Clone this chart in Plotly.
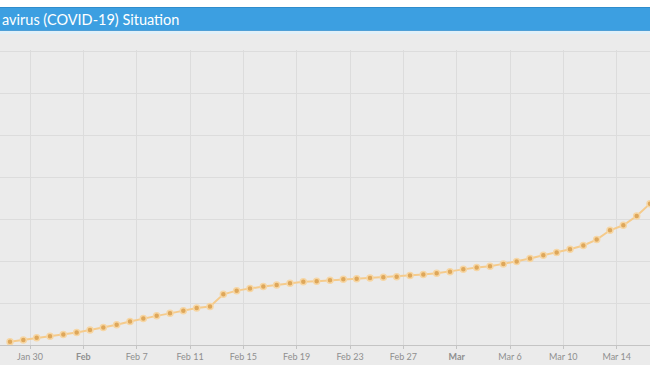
import plotly.graph_objects as go
import pandas as pd

# ---- data ----
dates = pd.date_range("2020-01-28 12:00", "2020-03-16 12:00", freq="D")
cases = [3900, 5950, 8570, 10480, 12500, 14880, 17860, 20830, 24170, 27980,
         31550, 34760, 37740, 40830, 44050, 45830, 60480, 64880, 67500, 69880,
         71670, 73570, 75360, 76190, 77140, 78330, 79170, 80000, 80710, 81550,
         82980, 84170, 85480, 87500, 90240, 92500, 94050, 96790, 99640, 103210,
         107140, 110360, 114290, 118690, 125830, 136900, 142860, 153930, 168690]
tick_dates = ["2020-01-30", "2020-02-03", "2020-02-07", "2020-02-11", "2020-02-15",
              "2020-02-19", "2020-02-23", "2020-02-27", "2020-03-02", "2020-03-06",
              "2020-03-10", "2020-03-14"]
tick_labels = ["Jan 30", "<b>Feb</b>", "Feb 7", "Feb 11", "Feb 15", "Feb 19",
               "Feb 23", "Feb 27", "<b>Mar</b>", "Mar 6", "Mar 10", "Mar 14"]
title_text = "avirus (COVID-19) Situation"

W, H = 650, 365
MT, MB = 50, 20
PH = H - MT - MB


def py(ypix):
    return (H - MB - ypix) / PH


fig = go.Figure()
fig.add_trace(go.Scatter(
    x=dates, y=cases, mode="lines+markers",
    line=dict(color="#f5cb8c", width=2),
    marker=dict(size=6, color="#dea75a", line=dict(color="#f6d6a4", width=1.5)),
    hoverinfo="skip", showlegend=False,
))

shapes = [
    dict(type="rect", xref="paper", yref="paper", x0=0, x1=1, y0=py(7), y1=py(0),
         fillcolor="#ffffff", line_width=0, layer="below"),
    dict(type="rect", xref="paper", yref="paper", x0=0, x1=1, y0=py(31), y1=py(7),
         fillcolor="#3c9fe1", line_width=0, layer="below"),
    dict(type="rect", xref="paper", yref="paper", x0=0, x1=1, y0=py(34), y1=py(31),
         fillcolor="#e2f0f8", line_width=0, layer="below"),
    dict(type="line", xref="paper", yref="paper", x0=0, x1=1, y0=py(7.5), y1=py(7.5),
         line=dict(color="#2f8dcc", width=1), layer="below"),
    dict(type="line", xref="paper", yref="paper", x0=0, x1=1, y0=py(30.5), y1=py(30.5),
         line=dict(color="#4f9fd6", width=1), layer="below"),
]

fig.update_layout(
    width=W, height=H,
    margin=dict(l=0, r=0, t=MT, b=MB),
    paper_bgcolor="#ebebeb", plot_bgcolor="#ebebeb",
    shapes=shapes,
    annotations=[dict(text=title_text, xref="paper", yref="paper", x=0, y=py(19.5),
                      xanchor="left", yanchor="middle", showarrow=False,
                      font=dict(family="Lato, Open Sans, sans-serif", size=14.5, color="#ffffff"))],
    xaxis=dict(
        type="date", range=["2020-01-27 18:00", "2020-03-16 12:00"],
        tickvals=tick_dates, ticktext=tick_labels,
        showgrid=True, gridcolor="#dcdcdc", gridwidth=1,
        showline=True, linecolor="#c4c4c4", linewidth=1,
        ticks="outside", ticklen=3, tickcolor="#c4c4c4",
        tickfont=dict(family="Lato, Open Sans, sans-serif", size=9, color="#8f8f8f"),
        zeroline=False, fixedrange=True,
    ),
    yaxis=dict(
        range=[0, 352000], dtick=50000, tick0=0,
        showgrid=True, gridcolor="#dcdcdc", gridwidth=1,
        showticklabels=False, zeroline=False, ticks="", fixedrange=True,
    ),
)

fig.write_html(
    "out.html",
    config={"displayModeBar": False},
    post_script="document.body.style.margin='0';document.body.style.overflow='hidden';",
)
